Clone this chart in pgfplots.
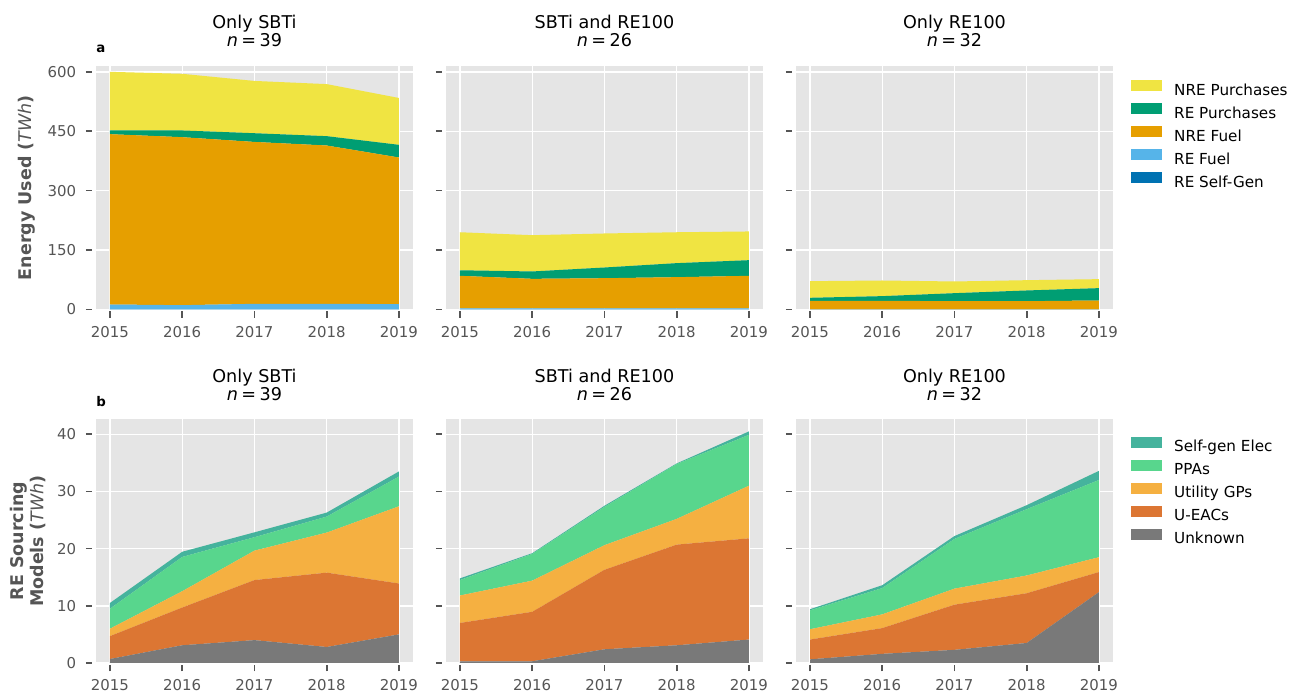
\documentclass[border=0pt]{standalone}
\usepackage{fontspec}
\setmainfont{DejaVu Sans}
\usepackage{pgfplots}
\pgfplotsset{compat=1.18}
\definecolor{bgc}{HTML}{E5E5E5}
\definecolor{tickc}{HTML}{555555}
\definecolor{cNREP}{HTML}{F0E442}
\definecolor{cREP}{HTML}{009E73}
\definecolor{cNREF}{HTML}{E69F00}
\definecolor{cREF}{HTML}{56B4E9}
\definecolor{cSG}{HTML}{0072B2}
\definecolor{cSGE}{HTML}{45B39D}
\definecolor{cPPA}{HTML}{58D68D}
\definecolor{cUGP}{HTML}{F5B041}
\definecolor{cUEAC}{HTML}{DC7633}
\definecolor{cUNK}{HTML}{797979}
\newcommand{\tfont}{\fontsize{13.2}{15}\selectfont}
\newcommand{\lfont}{\fontsize{13.1}{15}\selectfont}
\pgfplotsset{
  panel/.style={
    scale only axis, width=238.4pt, height=182.7pt,
    xmin=2014.8, xmax=2019.2, ymin=0, enlargelimits=false,
    axis background/.style={fill=bgc},
    grid=major, major grid style={white, line width=1.1pt},
    axis line style={draw=none},
    tick align=outside, tick pos=left,
    major tick length=4.8pt,
    every tick/.style={tickc, line width=1.2pt},
    xtick style={yshift=-1.5pt},
    ytick style={xshift=-2.5pt},
    xtick={2015,2016,2017,2018,2019},
    xticklabels={2015,2016,2017,2018,2019},
    ticklabel style={font=\fontsize{11.2}{13}\selectfont, text=tickc},
    xticklabel style={yshift=-4.2pt},
    yticklabel style={xshift=-6.2pt},
    /pgf/number format/assume math mode=true,
    stack plots=y,
    legend image code/.code={\fill[##1] (0pt,-0.1pt) rectangle (23.25pt,8.15pt);},
    legend style={draw=none, fill=none, anchor=north west,
      font=\fontsize{11.4}{13}\selectfont, row sep=3.6pt, column sep=9pt,
      inner sep=0pt, nodes={inner sep=0pt, text height=8.5pt, text depth=2.5pt}},
    legend cell align=left, reverse legend,
  },
  toprow/.style={panel, ymax=615, ytick={0,150,300,450,600}},
  botrow/.style={panel, ymax=42.6, ytick={0,10,20,30,40}},
}
\begin{document}
\begin{tikzpicture}
\path[use as bounding box] (0,0) rectangle (967.5pt,521.25pt);
% ---------- top row ----------
\begin{axis}[toprow, at={(71.66pt,289.125pt)}, anchor=south west]
\addplot[fill=cSG, draw=none] coordinates {(2015,0.5)(2016,0.5)(2017,0.5)(2018,0.5)(2019,0.5)} \closedcycle;
\addplot[fill=cREF, draw=none] coordinates {(2015,12.1)(2016,10.4)(2017,13.8)(2018,13.8)(2019,13.0)} \closedcycle;
\addplot[fill=cNREF, draw=none] coordinates {(2015,430)(2016,424.1)(2017,408.7)(2018,399.7)(2019,370.2)} \closedcycle;
\addplot[fill=cREP, draw=none] coordinates {(2015,9.3)(2016,17)(2017,22)(2018,23.6)(2019,32)} \closedcycle;
\addplot[fill=cNREP, draw=none] coordinates {(2015,148.1)(2016,143)(2017,132)(2018,131.4)(2019,118.3)} \closedcycle;
\end{axis}
\begin{axis}[toprow, at={(334.16pt,289.125pt)}, anchor=south west, yticklabels={}]
\addplot[fill=cSG, draw=none] coordinates {(2015,0.5)(2016,0.5)(2017,0.5)(2018,0.5)(2019,0.5)} \closedcycle;
\addplot[fill=cREF, draw=none] coordinates {(2015,2.5)(2016,2.5)(2017,2.5)(2018,2.5)(2019,2.5)} \closedcycle;
\addplot[fill=cNREF, draw=none] coordinates {(2015,82)(2016,74.4)(2017,76)(2018,78.6)(2019,82)} \closedcycle;
\addplot[fill=cREP, draw=none] coordinates {(2015,14)(2016,18.6)(2017,27)(2018,35.4)(2019,39.5)} \closedcycle;
\addplot[fill=cNREP, draw=none] coordinates {(2015,96)(2016,91.6)(2017,85.9)(2018,78)(2019,72.5)} \closedcycle;
\end{axis}
\begin{axis}[toprow, at={(596.66pt,289.125pt)}, anchor=south west, yticklabels={},
  legend style={at={(1.0552,0.942)}}]
\addplot[fill=cSG, draw=none] coordinates {(2015,0.3)(2016,0.3)(2017,0.3)(2018,0.3)(2019,0.3)} \closedcycle;
\addlegendentry{RE Self-Gen}
\addplot[fill=cREF, draw=none] coordinates {(2015,0.3)(2016,0.3)(2017,0.3)(2018,0.3)(2019,0.3)} \closedcycle;
\addlegendentry{RE Fuel}
\addplot[fill=cNREF, draw=none] coordinates {(2015,21.3)(2016,21.3)(2017,20.4)(2018,20.4)(2019,22.1)} \closedcycle;
\addlegendentry{NRE Fuel}
\addplot[fill=cREP, draw=none] coordinates {(2015,7.6)(2016,11.8)(2017,20.2)(2018,27)(2019,31.2)} \closedcycle;
\addlegendentry{RE Purchases}
\addplot[fill=cNREP, draw=none] coordinates {(2015,42)(2016,39.5)(2017,29.5)(2018,26)(2019,22.7)} \closedcycle;
\addlegendentry{NRE Purchases}
\end{axis}
% ---------- bottom row ----------
\begin{axis}[botrow, at={(71.66pt,24pt)}, anchor=south west]
\addplot[fill=cUNK, draw=none] coordinates {(2015,0.7)(2016,3.1)(2017,4.0)(2018,2.8)(2019,5.0)} \closedcycle;
\addplot[fill=cUEAC, draw=none] coordinates {(2015,4.0)(2016,6.6)(2017,10.5)(2018,13.0)(2019,8.9)} \closedcycle;
\addplot[fill=cUGP, draw=none] coordinates {(2015,1.3)(2016,2.85)(2017,5.15)(2018,7.0)(2019,13.5)} \closedcycle;
\addplot[fill=cPPA, draw=none] coordinates {(2015,3.5)(2016,6.0)(2017,2.35)(2018,2.8)(2019,5.2)} \closedcycle;
\addplot[fill=cSGE, draw=none] coordinates {(2015,1.0)(2016,0.9)(2017,0.85)(2018,0.7)(2019,0.9)} \closedcycle;
\end{axis}
\begin{axis}[botrow, at={(334.16pt,24pt)}, anchor=south west, yticklabels={}]
\addplot[fill=cUNK, draw=none] coordinates {(2015,0.3)(2016,0.3)(2017,2.4)(2018,3.1)(2019,4.1)} \closedcycle;
\addplot[fill=cUEAC, draw=none] coordinates {(2015,6.7)(2016,8.65)(2017,13.9)(2018,17.6)(2019,17.7)} \closedcycle;
\addplot[fill=cUGP, draw=none] coordinates {(2015,4.8)(2016,5.45)(2017,4.3)(2018,4.5)(2019,9.2)} \closedcycle;
\addplot[fill=cPPA, draw=none] coordinates {(2015,2.7)(2016,4.67)(2017,6.7)(2018,9.6)(2019,8.9)} \closedcycle;
\addplot[fill=cSGE, draw=none] coordinates {(2015,0.3)(2016,0.13)(2017,0.2)(2018,0.1)(2019,0.6)} \closedcycle;
\end{axis}
\begin{axis}[botrow, at={(596.66pt,24pt)}, anchor=south west, yticklabels={},
  legend style={at={(1.0552,0.930)}}]
\addplot[fill=cUNK, draw=none] coordinates {(2015,0.64)(2016,1.6)(2017,2.3)(2018,3.5)(2019,12.4)} \closedcycle;
\addlegendentry{Unknown}
\addplot[fill=cUEAC, draw=none] coordinates {(2015,3.46)(2016,4.5)(2017,7.9)(2018,8.7)(2019,3.5)} \closedcycle;
\addlegendentry{U-EACs}
\addplot[fill=cUGP, draw=none] coordinates {(2015,1.8)(2016,2.4)(2017,2.8)(2018,3.1)(2019,2.6)} \closedcycle;
\addlegendentry{Utility GPs}
\addplot[fill=cPPA, draw=none] coordinates {(2015,3.3)(2016,4.6)(2017,8.7)(2018,11.6)(2019,13.5)} \closedcycle;
\addlegendentry{PPAs}
\addplot[fill=cSGE, draw=none] coordinates {(2015,0.2)(2016,0.5)(2017,0.5)(2018,0.7)(2019,1.6)} \closedcycle;
\addlegendentry{Self-gen Elec}
\end{axis}
% ---------- titles ----------
\node[anchor=base, font=\tfont] at (190.86pt,499.575pt) {Only SBTi};
\node[anchor=base, font=\tfont] at (190.86pt,486.3pt) {\textit{n}\hspace{0.2em}=\hspace{0.2em}39};
\node[anchor=base, font=\tfont] at (453.36pt,499.575pt) {SBTi and RE100};
\node[anchor=base, font=\tfont] at (453.36pt,486.3pt) {\textit{n}\hspace{0.2em}=\hspace{0.2em}26};
\node[anchor=base, font=\tfont] at (715.86pt,499.575pt) {Only RE100};
\node[anchor=base, font=\tfont] at (715.86pt,486.3pt) {\textit{n}\hspace{0.2em}=\hspace{0.2em}32};
\node[anchor=base, font=\tfont] at (190.86pt,234.45pt) {Only SBTi};
\node[anchor=base, font=\tfont] at (190.86pt,221.2pt) {\textit{n}\hspace{0.2em}=\hspace{0.2em}39};
\node[anchor=base, font=\tfont] at (453.36pt,234.45pt) {SBTi and RE100};
\node[anchor=base, font=\tfont] at (453.36pt,221.2pt) {\textit{n}\hspace{0.2em}=\hspace{0.2em}26};
\node[anchor=base, font=\tfont] at (715.86pt,234.45pt) {Only RE100};
\node[anchor=base, font=\tfont] at (715.86pt,221.2pt) {\textit{n}\hspace{0.2em}=\hspace{0.2em}32};
% ---------- panel letters ----------
\node[anchor=base west, inner sep=0pt, font=\fontsize{10}{12}\selectfont\bfseries] at (72pt,481.6pt) {a};
\node[anchor=base west, inner sep=0pt, font=\fontsize{10}{12}\selectfont\bfseries] at (72pt,216.45pt) {b};
% ---------- y labels ----------
\node[rotate=90, anchor=base, inner sep=0pt, text=tickc, font=\lfont] at (23.25pt,380.5pt) {\textbf{Energy Used (}\textit{TWh}\textbf{)}};
\node[rotate=90, anchor=base, inner sep=0pt, text=tickc, font=\lfont] at (17.5pt,115.35pt) {\textbf{RE Sourcing}};
\node[rotate=90, anchor=base, inner sep=0pt, text=tickc, font=\lfont] at (32.5pt,115.35pt) {\textbf{Models (}\textit{TWh}\textbf{)}};
\end{tikzpicture}
\end{document}
